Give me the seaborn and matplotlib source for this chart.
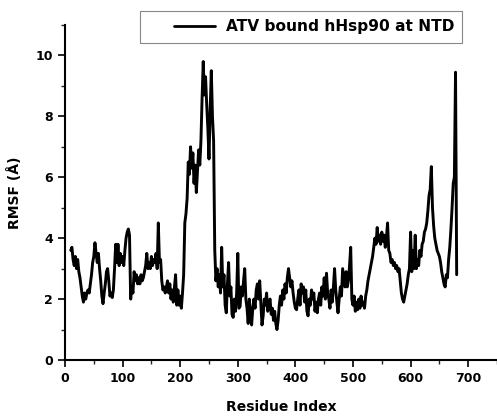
import numpy as np
import pandas as pd
import matplotlib
matplotlib.use("Agg")
import matplotlib.pyplot as plt
import seaborn as sns
from matplotlib.ticker import MultipleLocator
from matplotlib.legend_handler import HandlerLine2D

residue = [
    10, 12, 14, 16, 18, 20, 22, 24, 26, 28, 30, 32, 34, 36, 38, 40, 42, 44, 46, 48,
    50, 52, 54, 56, 58, 60, 62, 64, 66, 68, 70, 72, 74, 76, 78, 80, 82, 84, 86, 88,
    90, 92, 94, 96, 98, 100, 102, 104, 106, 108, 110, 112, 114, 116, 118, 120, 122, 124, 126, 128,
    130, 132, 134, 136, 138, 140, 142, 144, 146, 148, 150, 152, 154, 156, 158, 160, 162, 164, 166, 168,
    170, 172, 174, 176, 178, 180, 182, 184, 186, 188, 190, 192, 194, 196, 198, 200, 202, 204, 206, 208,
    210, 212, 214, 216, 218, 220, 222, 224, 226, 228, 230, 232, 234, 236, 238, 240, 242, 244, 246, 248,
    250, 252, 254, 256, 258, 260, 262, 264, 266, 268, 270, 272, 274, 276, 278, 280, 282, 284, 286, 288,
    290, 292, 294, 296, 298, 300, 302, 304, 306, 308, 310, 312, 314, 316, 318, 320, 322, 324, 326, 328,
    330, 332, 334, 336, 338, 340, 342, 344, 346, 348, 350, 352, 354, 356, 358, 360, 362, 364, 366, 368,
    370, 372, 374, 376, 378, 380, 382, 384, 386, 388, 390, 392, 394, 396, 398, 400, 402, 404, 406, 408,
    410, 412, 414, 416, 418, 420, 422, 424, 426, 428, 430, 432, 434, 436, 438, 440, 442, 444, 446, 448,
    450, 452, 454, 456, 458, 460, 462, 464, 466, 468, 470, 472, 474, 476, 478, 480, 482, 484, 486, 488,
    490, 492, 494, 496, 498, 500, 502, 504, 506, 508, 510, 512, 514, 516, 518, 520, 522, 524, 526, 528,
    530, 532, 534, 536, 538, 540, 542, 544, 546, 548, 550, 552, 554, 556, 558, 560, 562, 564, 566, 568,
    570, 572, 574, 576, 578, 580, 582, 584, 586, 588, 590, 592, 594, 596, 598, 600, 602, 604, 606, 608,
    610, 612, 614, 616, 618, 620, 622, 624, 626, 628, 630, 632, 634, 636, 638, 640, 642, 644, 646, 648,
    650, 652, 654, 656, 658, 660, 662, 664, 666, 668, 670, 672, 674, 676, 678, 680,
]
rmsf = [
    3.6, 3.7, 3.3, 3.1, 3.4, 3.0, 3.3, 2.9, 2.7, 2.4, 2.1, 1.9, 2.2, 2.0, 2.2, 2.3, 2.2, 2.5, 2.8, 3.2,
    3.4, 3.85, 3.5, 3.2, 3.5, 3.0, 2.6, 2.1, 1.85, 2.2, 2.5, 2.9, 3.0, 2.6, 2.1, 2.2, 2.05, 2.3, 3.0, 3.8,
    3.2, 3.8, 3.1, 3.5, 3.2, 3.4, 3.1, 3.6, 4.0, 4.2, 4.3, 4.1, 2.0, 2.4, 2.2, 2.9, 2.6, 2.8, 2.5, 2.7,
    2.5, 2.8, 2.6, 2.7, 2.9, 3.1, 3.5, 3.0, 3.2, 3.0, 3.4, 3.1, 3.3, 3.2, 3.5, 3.0, 4.5, 3.2, 3.3, 2.6,
    2.3, 2.4, 2.2, 2.4, 2.6, 2.2, 2.5, 2.0, 2.3, 1.9, 2.4, 2.8, 1.8, 2.3, 1.8, 2.1, 1.7, 2.2, 2.8, 4.5,
    4.8, 5.3, 6.5, 6.1, 7.0, 6.3, 6.8, 5.8, 6.4, 5.5, 6.2, 6.9, 6.4, 7.2, 8.6, 9.8, 8.7, 9.3, 8.4, 7.6,
    6.6, 8.2, 9.5, 8.0, 7.2, 3.6, 2.6, 3.0, 2.4, 2.8, 2.2, 3.7, 2.4, 2.8, 1.8, 1.55, 2.5, 3.2, 2.1, 2.4,
    1.5, 1.4, 2.0, 1.6, 2.2, 3.5, 1.7, 1.76, 2.4, 2.1, 2.6, 3.0, 2.0, 1.7, 1.2, 2.0, 1.5, 1.15, 1.7, 2.0,
    1.7, 2.3, 2.5, 2.0, 2.6, 1.9, 1.15, 1.45, 2.0, 1.8, 2.2, 1.6, 1.9, 2.0, 1.5, 1.7, 1.3, 1.6, 1.2, 1.0,
    1.3, 1.8, 2.1, 1.8, 2.3, 2.0, 2.5, 2.2, 2.7, 3.0, 2.7, 2.4, 2.6, 2.2, 1.9, 1.7, 1.65, 2.0, 2.3, 1.8,
    2.5, 2.2, 2.4, 1.9, 2.3, 1.6, 1.45, 2.0, 1.8, 2.3, 2.0, 2.2, 1.6, 1.9, 1.55, 2.0, 2.2, 1.8, 2.4, 2.1,
    2.7, 2.0, 2.85, 2.2, 2.0, 1.7, 2.3, 1.9, 2.4, 3.0, 2.3, 1.9, 1.55, 2.0, 2.4, 2.1, 3.0, 2.7, 2.4, 2.9,
    2.4, 2.6, 3.1, 3.7, 2.0, 1.8, 2.1, 1.6, 1.9, 1.65, 2.0, 1.7, 2.1, 1.8, 1.9, 1.7, 2.1, 2.3, 2.6, 2.8,
    3.0, 3.2, 3.4, 3.7, 4.0, 3.8, 4.35, 3.9, 4.1, 3.8, 4.2, 3.9, 4.1, 3.7, 4.0, 4.5, 3.6, 3.5, 3.2, 3.3,
    3.1, 3.2, 3.0, 3.1, 2.9, 3.0, 2.6, 2.2, 2.0, 1.9, 2.1, 2.3, 2.5, 2.8, 3.0, 4.2, 2.9, 3.6, 3.0, 4.1,
    3.0, 3.3, 3.1, 3.6, 3.4, 3.8, 3.9, 4.2, 4.3, 4.5, 4.9, 5.4, 5.6, 6.35, 5.0, 4.4, 4.0, 3.8, 3.6, 3.5,
    3.4, 3.2, 2.9, 2.7, 2.5, 2.4, 2.8, 2.7, 3.3, 3.7, 4.3, 5.0, 5.8, 6.0, 9.45, 2.8,
]
series_label = "ATV bound hHsp90 at NTD"
x_ticks = [0, 100, 200, 300, 400, 500, 600, 700]
y_ticks = [0, 2, 4, 6, 8, 10]

sns.set_style("ticks")
plt.rcParams["font.family"] = ["DejaVu Sans"]
plt.rcParams["font.weight"] = "bold"
plt.rcParams["text.color"] = "black"
plt.rcParams["axes.labelcolor"] = "black"


class OffsetLineHandler(HandlerLine2D):
    """Legend line drawn only on the right part of the handle box (leaves a left gap)."""
    def create_artists(self, legend, orig_handle, xdescent, ydescent, width, height,
                       fontsize, trans):
        artists = super().create_artists(legend, orig_handle, xdescent, ydescent,
                                         width, height, fontsize, trans)
        for a in artists:
            xd = np.asarray(a.get_xdata(), dtype=float)
            if len(xd) >= 2:
                start, end = xd[0], xd[-1]
                a.set_xdata(np.linspace(start + 0.38 * (end - start), end, len(xd)))
        return artists


df = pd.DataFrame({"Residue": residue, "RMSF": rmsf, "label": series_label})

fig = plt.figure(figsize=(4.97, 4.16), dpi=100)
ax = fig.add_axes([65 / 497, 56 / 416, 432 / 497, 335 / 416])

sns.lineplot(data=df, x="Residue", y="RMSF", hue="label", palette=["black"],
             linewidth=2.1, ax=ax)

ax.set_xlim(0, 750)
ax.set_ylim(0, 11)
ax.set_xticks(x_ticks)
ax.set_yticks(y_ticks)
ax.xaxis.set_minor_locator(MultipleLocator(50))
ax.yaxis.set_minor_locator(MultipleLocator(1))
ax.tick_params(which="major", length=5, width=1.2, direction="out", labelsize=9, colors="black")
ax.tick_params(which="minor", length=3, width=1.0, direction="out")
for lab in ax.get_xticklabels() + ax.get_yticklabels():
    lab.set_fontweight("bold")

for s in ["top", "right"]:
    ax.spines[s].set_visible(False)
for s in ["left", "bottom"]:
    ax.spines[s].set_linewidth(1.5)
    ax.spines[s].set_color("black")

ax.set_xlabel("Residue Index", fontsize=10, fontweight="bold", labelpad=11, color="black")
ax.set_ylabel("RMSF (Å)", fontsize=10, fontweight="bold", labelpad=10, color="black")

handles, labels = ax.get_legend_handles_labels()
leg = ax.legend(handles, labels, loc="upper left",
                bbox_to_anchor=(140 / 497, 1 - 11 / 416), bbox_transform=fig.transFigure,
                fancybox=False, frameon=True, edgecolor="#888888", handlelength=4.3,
                handletextpad=0.7, borderaxespad=0.0,
                prop={"weight": "bold", "size": 11.1}, borderpad=0.55, framealpha=1,
                labelcolor="black",
                handler_map={handles[0]: OffsetLineHandler()})
leg.get_frame().set_linewidth(0.8)
for line in leg.get_lines():
    line.set_linewidth(2.0)

fig.savefig("out.png", dpi=100)
